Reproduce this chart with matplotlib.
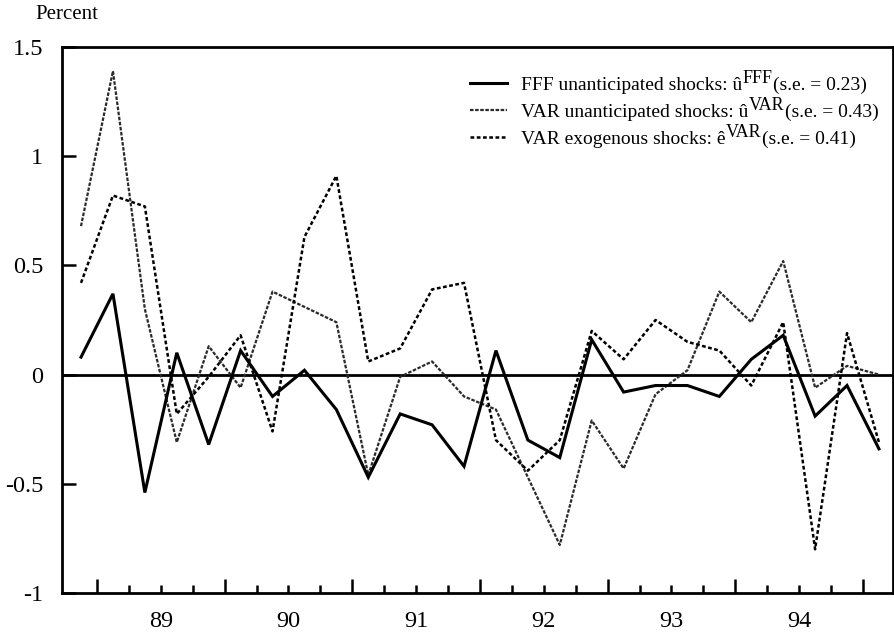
import matplotlib
matplotlib.use('Agg')
import matplotlib.pyplot as plt
import numpy as np
import pandas as pd

plt.rcParams['font.family'] = ['Liberation Serif', 'DejaVu Serif']

# quarterly data, 1988Q4 - 1995Q1
quarters = pd.period_range('1988Q4', '1995Q1', freq='Q')

fff_shock = [0.08, 0.37, -0.54, 0.10, -0.32, 0.11, -0.10, 0.02, -0.16, -0.47,
             -0.18, -0.23, -0.42, 0.11, -0.30, -0.38, 0.16, -0.08, -0.05, -0.05,
             -0.10, 0.07, 0.18, -0.19, -0.05, -0.34]
var_unant = [0.68, 1.39, 0.30, -0.31, 0.13, -0.06, 0.38, 0.31, 0.24, -0.46,
             -0.01, 0.06, -0.10, -0.16, -0.47, -0.78, -0.21, -0.43, -0.09, 0.02,
             0.38, 0.24, 0.52, -0.06, 0.04, 0.00]
var_exog = [0.42, 0.82, 0.77, -0.18, -0.01, 0.18, -0.26, 0.63, 0.91, 0.06,
            0.12, 0.39, 0.42, -0.30, -0.44, -0.30, 0.20, 0.07, 0.25, 0.15,
            0.11, -0.05, 0.24, -0.80, 0.19, -0.31]

years = [1989, 1990, 1991, 1992, 1993, 1994, 1995]
year_labels = ['89', '90', '91', '92', '93', '94']
yticks = [-1, -0.5, 0, 0.5, 1, 1.5]
ytick_labels = ['-1', '-0.5', '0', '0.5', '1', '1.5']

legend_main = ['FFF unanticipated shocks: û',
               'VAR unanticipated shocks: û',
               'VAR exogenous shocks: ê']
legend_sup = ['FFF', 'VAR', 'VAR']
legend_se = ['(s.e. = 0.23)', '(s.e. = 0.43)', '(s.e. = 0.41)']

# x position = middle of the quarter
x = quarters.year + (quarters.quarter - 0.5) / 4.0

W, H = 894, 633
fig = plt.figure(figsize=(W / 100, H / 100), dpi=100)
ax = fig.add_axes([62 / W, 1 - 593 / H, (893 - 62) / W, (593 - 47) / H])

ax.axhline(0, color='black', lw=2.0, zorder=1)
l2, = ax.plot(x, var_unant, color='#2b2b2b', lw=1.6, linestyle=(0, (1.6, 0.7)))
l3, = ax.plot(x, var_exog, color='black', lw=1.8, linestyle=(0, (1.5, 1.0)))
l1, = ax.plot(x, fff_shock, color='black', lw=2.2, solid_joinstyle='miter')

ax.set_xlim(1988.726, 1995.235)
ax.set_ylim(-1, 1.5)

# year boundaries = long ticks, quarter boundaries = short ticks, labels mid-year
ax.set_xticks(years)
ax.set_xticklabels([])
minor_pos = []
minor_lab = []
for y in years[:-1]:
    for q in (0.25, 0.5, 0.75):
        minor_pos.append(y + q)
        minor_lab.append(year_labels[years.index(y)] if q == 0.5 else '')
ax.set_xticks(minor_pos, minor_lab, minor=True)
ax.tick_params(axis='x', which='major', direction='in', length=10, width=1.8,
               top=False)
ax.tick_params(axis='x', which='minor', direction='in', length=6, width=1.8,
               labelsize=17.5, pad=13, top=False)

ax.set_yticks(yticks, ytick_labels)
ax.tick_params(axis='y', direction='in', length=10, width=1.8, labelsize=17.5,
               pad=13.5, right=False)

for s in ax.spines.values():
    s.set_linewidth(2.0)

fig.text(35 / W, 1 - 19 / H, 'Percent', fontsize=15, va='baseline')

leg = ax.legend([l1, l2, l3], legend_main, loc='upper left',
                bbox_to_anchor=(470 / W, 1 - 76 / H), bbox_transform=fig.transFigure,
                frameon=False, fontsize=14, handlelength=1.9, handletextpad=0.72,
                labelspacing=0.5, borderpad=0, borderaxespad=0)

# superscripts and s.e. appended after each legend label
fig.canvas.draw()
r = fig.canvas.get_renderer()
for t, sup, se in zip(leg.get_texts(), legend_sup, legend_se):
    bb = t.get_window_extent(r)
    d = r.get_text_width_height_descent(t.get_text(), t.get_fontproperties(), ismath=False)[2]
    base = bb.y0 + d
    ts = fig.text(bb.x1 / W, (base + 7) / H, sup, fontsize=13, va='baseline')
    sb = ts.get_window_extent(r)
    fig.text((sb.x1 + 1) / W, base / H, se, fontsize=14, va='baseline')

fig.savefig('out.png', dpi=100)
